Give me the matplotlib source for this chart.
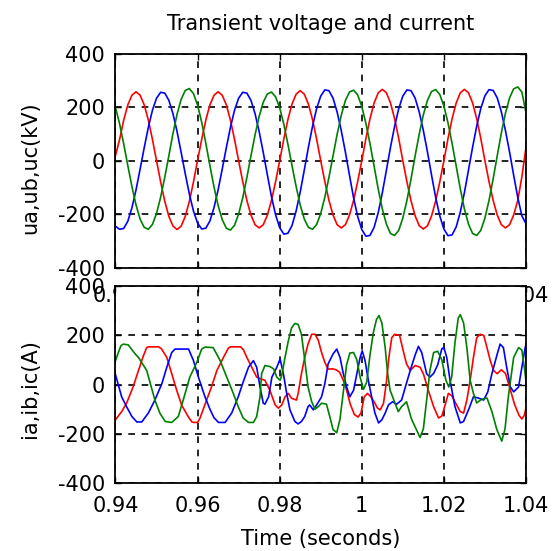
import numpy as np
import matplotlib
matplotlib.use("Agg")
import matplotlib.pyplot as plt

plt.rcParams['font.family'] = ['DejaVu Sans']

# ---- voltages (kV), sampled every 1 ms from 0.94 s to 1.04 s ----
t_u = np.linspace(0.94, 1.04, 101)
ua = [20, 80, 152, 209, 245, 258, 245, 209, 152, 80, 0, -79, -151, -208, -244, -257, -244, -208, -151, -79,
      2, 80, 152, 209, 245, 258, 245, 209, 152, 80, 0, -78, -148, -203, -239, -251, -239, -203, -148, -78,
      0, 81, 154, 212, 249, 262, 249, 212, 154, 81, 0, -78, -148, -203, -239, -251, -239, -203, -148, -78,
      0, 83, 157, 216, 254, 267, 254, 216, 157, 83, 0, -79, -150, -206, -243, -255, -243, -206, -150, -79,
      0, 83, 157, 216, 254, 267, 254, 216, 157, 83, 0, -78, -148, -203, -239, -251, -239, -203, -148, -60,
      50]
ub = [-245, -256, -253, -226, -176, -109, -31, 49, 125, 189, 234, 256, 253, 226, 176, 109, 31, -49, -125, -188,
      -233, -255, -252, -225, -175, -109, -31, 49, 125, 189, 234, 256, 253, 226, 176, 109, 31, -53, -134, -202,
      -250, -274, -271, -242, -188, -117, -34, 51, 129, 195, 242, 265, 262, 234, 182, 113, 33, -54, -138, -208,
      -257, -282, -279, -249, -194, -120, -35, 51, 129, 195, 242, 265, 262, 234, 182, 113, 33, -54, -137, -206,
      -255, -280, -277, -247, -192, -119, -34, 51, 130, 196, 243, 266, 263, 235, 183, 113, 33, -54, -137, -206,
      -235]
uc = [199, 138, 63, -18, -96, -165, -218, -249, -256, -238, -197, -136, -62, 19, 102, 174, 230, 263, 270, 251,
      208, 144, 66, -18, -98, -167, -220, -252, -259, -241, -199, -138, -63, 18, 97, 166, 219, 250, 257, 239,
      198, 137, 62, -18, -96, -165, -218, -249, -256, -238, -197, -136, -62, 19, 99, 170, 225, 257, 264, 246,
      203, 140, 64, -20, -105, -180, -237, -272, -279, -260, -214, -148, -68, 19, 100, 172, 226, 259, 266, 248,
      205, 142, 65, -20, -105, -180, -237, -272, -279, -260, -214, -148, -68, 19, 104, 178, 235, 269, 276, 257,
      180]

# ---- currents (A), points ----
t_ia = [0.9400, 0.9415, 0.9427, 0.9443, 0.9456, 0.9468, 0.9476, 0.9480, 0.9505, 0.9512, 0.9525, 0.9537,
        0.9549, 0.9561, 0.9577, 0.9586, 0.9590, 0.9600, 0.9606, 0.9622, 0.9634, 0.9647, 0.9663, 0.9675,
        0.9680, 0.9705, 0.9712, 0.9720, 0.9732, 0.9744, 0.9752, 0.9764, 0.9776, 0.9789, 0.9797, 0.9805,
        0.9813, 0.9821, 0.9829, 0.9841, 0.9845, 0.9853, 0.9861, 0.9869, 0.9878, 0.9886, 0.9894, 0.9902,
        0.9910, 0.9918, 0.9928, 0.9937, 0.9946, 0.9955, 0.9963, 0.9972, 0.9982, 0.9991, 0.9998, 1.0006,
        1.0014, 1.0022, 1.0030, 1.0038, 1.0045, 1.0053, 1.0060, 1.0066, 1.0073, 1.0080, 1.0092, 1.0101,
        1.0109, 1.0118, 1.0130, 1.0142, 1.0150, 1.0162, 1.0175, 1.0187, 1.0195, 1.0203, 1.0211, 1.0219,
        1.0231, 1.0240, 1.0248, 1.0256, 1.0264, 1.0272, 1.0280, 1.0288, 1.0297, 1.0305, 1.0313, 1.0321,
        1.0330, 1.0340, 1.0350, 1.0360, 1.0372, 1.0383, 1.0390, 1.0396, 1.0400]
ia = [-143, -110, -76, -9, 57, 117, 150, 153, 153, 145, 110, 44,
      -23, -83, -130, -152, -154, -154, -136, -63, -9, 57, 110, 148,
      153, 153, 140, 110, 70, 30, 24, 17, -23, -83, -96, -83,
      -50, -36, -56, -63, -36, 44, 110, 164, 204, 204, 180, 130,
      90, 62, 64, 60, 50, 17, -23, -80, -122, -132, -116, -50,
      -36, -50, -70, -95, -103, -76, 10, 110, 190, 204, 200, 137,
      84, 57, 77, 70, 44, -23, -90, -136, -128, -83, -36, -45,
      -83, -110, -116, -63, 17, 110, 190, 204, 200, 150, 97, 57,
      44, 60, 45, -10, -80, -125, -140, -125, -95]

t_ib = [0.9400, 0.9415, 0.9427, 0.9440, 0.9452, 0.9464, 0.9480, 0.9496, 0.9513, 0.9525, 0.9537, 0.9545,
        0.9578, 0.9590, 0.9602, 0.9618, 0.9630, 0.9640, 0.9651, 0.9667, 0.9683, 0.9699, 0.9711, 0.9724,
        0.9736, 0.9744, 0.9752, 0.9760, 0.9764, 0.9773, 0.9781, 0.9793, 0.9801, 0.9809, 0.9817, 0.9825,
        0.9837, 0.9845, 0.9853, 0.9861, 0.9869, 0.9873, 0.9882, 0.9890, 0.9902, 0.9910, 0.9918, 0.9930,
        0.9939, 0.9947, 0.9955, 0.9963, 0.9971, 0.9980, 0.9988, 0.9996, 1.0001, 1.0008, 1.0016, 1.0024,
        1.0032, 1.0041, 1.0049, 1.0057, 1.0065, 1.0075, 1.0085, 1.0097, 1.0108, 1.0118, 1.0130, 1.0138,
        1.0146, 1.0158, 1.0166, 1.0175, 1.0185, 1.0195, 1.0200, 1.0207, 1.0215, 1.0227, 1.0240, 1.0248,
        1.0260, 1.0272, 1.0284, 1.0297, 1.0307, 1.0317, 1.0330, 1.0337, 1.0345, 1.0353, 1.0362, 1.0370,
        1.0382, 1.0390, 1.0398, 1.0400]
ib = [40, -50, -90, -130, -152, -152, -116, -63, 4, 70, 130, 144,
      144, 97, 30, -50, -100, -135, -154, -154, -116, -50, 10, 70,
      97, 70, -9, -76, -80, -50, 30, 70, 104, 44, -36, -103,
      -150, -160, -150, -130, -90, -83, -103, -83, -50, 4, 84, 124,
      144, 110, 44, -9, -50, -23, 44, 110, 137, 97, 17, -50,
      -116, -156, -143, -116, -83, -70, -80, -63, 0, 57, 120, 155,
      130, 44, 30, 45, 80, 145, 150, 110, 17, -90, -156, -150,
      -103, -50, -55, -63, -30, 44, 124, 164, 150, 70, -10, -30,
      -10, 70, 150, 160]

t_ic = [0.9400, 0.9407, 0.9413, 0.9419, 0.9431, 0.9448, 0.9456, 0.9476, 0.9496, 0.9508, 0.9521, 0.9537,
        0.9553, 0.9565, 0.9581, 0.9598, 0.9610, 0.9618, 0.9638, 0.9655, 0.9671, 0.9687, 0.9699, 0.9711,
        0.9724, 0.9736, 0.9744, 0.9752, 0.9756, 0.9764, 0.9776, 0.9785, 0.9793, 0.9801, 0.9805, 0.9813,
        0.9821, 0.9829, 0.9837, 0.9845, 0.9853, 0.9861, 0.9869, 0.9878, 0.9886, 0.9894, 0.9902, 0.9914,
        0.9922, 0.9930, 0.9939, 0.9947, 0.9955, 0.9963, 0.9971, 0.9980, 0.9988, 0.9996, 1.0004, 1.0012,
        1.0020, 1.0028, 1.0036, 1.0042, 1.0049, 1.0057, 1.0063, 1.0069, 1.0081, 1.0089, 1.0097, 1.0109,
        1.0121, 1.0133, 1.0142, 1.0150, 1.0158, 1.0166, 1.0175, 1.0185, 1.0195, 1.0205, 1.0212, 1.0219,
        1.0227, 1.0235, 1.0240, 1.0248, 1.0256, 1.0264, 1.0272, 1.0280, 1.0292, 1.0305, 1.0317, 1.0329,
        1.0341, 1.0349, 1.0357, 1.0370, 1.0382, 1.0390, 1.0398, 1.0400]
ic = [97, 130, 157, 164, 161, 124, 110, 57, -63, -116, -150, -154,
      -130, -63, 30, 90, 144, 152, 150, 97, 30, -36, -90, -136,
      -154, -154, -130, -50, 44, 77, 73, 64, 30, 17, 37, 110,
      177, 230, 248, 244, 204, 100, -9, -70, -100, -90, -76, -80,
      -130, -183, -196, -140, -30, 80, 128, 130, 100, 30, -20, 10,
      120, 210, 265, 280, 250, 150, 44, -23, -76, -110, -90, -70,
      -140, -183, -215, -180, -63, 57, 130, 135, 100, 17, -10, 30,
      170, 270, 284, 250, 150, 17, -36, -75, -60, -55, -110, -183,
      -230, -180, -50, 110, 150, 140, 44, 10]

x_ticks = [0.94, 0.96, 0.98, 1.00, 1.02, 1.04]
x_ticklabels = ['0.94', '0.96', '0.98', '1', '1.02', '1.04']
y_ticks = [-400, -200, 0, 200, 400]
y_ticklabels = ['-400', '-200', '0', '200', '400']

RED, BLUE, GREEN = '#ff0000', '#0000ff', '#008000'

fig = plt.figure(figsize=(5.55, 5.51), dpi=100)
ax1 = fig.add_axes([0.2081, 0.514, 0.7396, 0.3884])
ax2 = fig.add_axes([0.2081, 0.1234, 0.7396, 0.3575])  # drawn over ax1's tick labels


def style(ax):
    ax.set_xlim(0.94, 1.04)
    ax.set_ylim(-400, 400)
    ax.set_xticks(x_ticks)
    ax.set_xticklabels(x_ticklabels)
    ax.set_yticks(y_ticks)
    ax.set_yticklabels(y_ticklabels)
    ax.tick_params(direction='in', length=4, width=1, labelsize=15,
                   top=True, right=True, colors='black')
    ax.tick_params(axis='x', pad=9)
    ax.tick_params(axis='y', pad=7.5)
    ax.grid(True, color='black', linestyle=(0, (4, 4)), linewidth=1.2)
    for s in ax.spines.values():
        s.set_linewidth(1.3)


ax1.plot(t_u, ua, color=RED, lw=1.2)
ax1.plot(t_u, ub, color=BLUE, lw=1.2)
ax1.plot(t_u, uc, color=GREEN, lw=1.2)
style(ax1)
ax1.tick_params(axis='x', pad=13)
ax1.set_title('Transient voltage and current', fontsize=15, pad=17)
ax1.set_ylabel('ua,ub,uc(kV)', fontsize=15)
ax1.yaxis.set_label_coords(-0.184, 0.47)

ax2.plot(t_ia, ia, color=RED, lw=1.2)
ax2.plot(t_ib, ib, color=BLUE, lw=1.2)
ax2.plot(t_ic, ic, color=GREEN, lw=1.2)
style(ax2)
ax2.set_ylabel('ia,ib,ic(A)', fontsize=15)
ax2.yaxis.set_label_coords(-0.184, 0.48)
ax2.set_xlabel('Time (seconds)', fontsize=15, labelpad=10)

fig.savefig('out.png', dpi=100)
